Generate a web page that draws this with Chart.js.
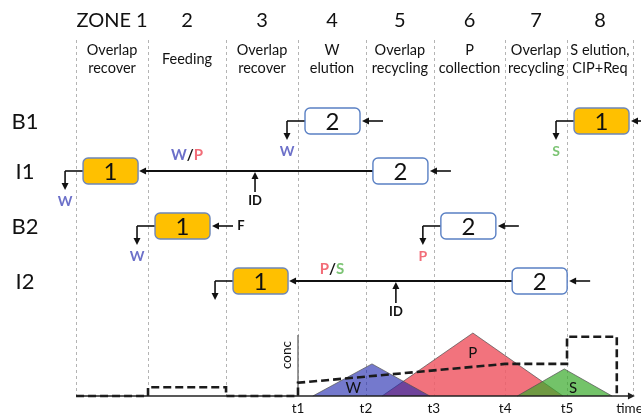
<!DOCTYPE html>
<html>
<head>
<meta charset="utf-8">
<script src="https://cdn.jsdelivr.net/npm/chart.js@4.4.1/dist/chart.umd.min.js"></script>
<style>
  html, body { margin: 0; padding: 0; background: #fff; }
  canvas { display: block; }
</style>
</head>
<body>
<canvas id="chart" width="641" height="416"></canvas>
<script>
// zones of one switching cycle
var zoneNums = ["ZONE 1", "2", "3", "4", "5", "6", "7", "8"];
var zoneNames = [["Overlap", "recover"], ["Feeding"], ["Overlap", "recover"], ["W", "elution"],
  ["Overlap", "recycling"], ["P", "collection"], ["Overlap", "recycling"], ["S elution,", "CIP+Req"]];
// zone borders on the time axis (borders 4..8 are t1..t5)
var zoneEdges = [-2.30, -1.23, -0.07, 1.00, 2.01, 3.02, 4.08, 5.00, 5.98];
var timeTicks = ["t1", "t2", "t3", "t4", "t5"];

// columns placed in each row / zone
var rowNames = ["B1", "I1", "B2", "I2"];
var boxRow = ["B1", "I1", "I1", "B2", "B2", "I2", "I2", "B1"];
var boxZone = [4, 1, 5, 2, 6, 3, 7, 8];
var boxNum = ["2", "1", "2", "1", "2", "1", "2", "1"];
var boxOut = ["W", "W", null, "W", "P", "", null, "S"];

// elution peaks (triangles)
var peakNames = ["W", "P", "S"];
var peakStart = [1.22, 2.25, 4.26];
var peakTop = [2.10, 3.60, 4.96];
var peakEnd = [2.96, 4.94, 5.67];
var peakConc = [0.51, 1.00, 0.43];

// dashed modifier profile
var gradT = [-2.30, -1.23, -1.23, -0.07, -0.07, 1.00, 1.00, 4.08, 5.00, 5.00, 5.74, 5.74];
var gradC = [0, 0, 0.14, 0.14, 0, 0, 0.21, 0.51, 0.51, 0.94, 0.94, 0];

var rowY = { B1: 121, I1: 171, B2: 226, I2: 281 };
var peakFill = ["rgba(30,38,175,0.62)", "rgba(240,91,102,0.85)", "rgba(55,169,41,0.7)"];
var peakOrder = [2, 3, 2];
var peakLabelY = [0.13, 0.68, 0.12];
var peakLabelDx = [-0.28, 0, 0.13];
var colW = "#6c70c9", colP = "#f26d78", colS = "#7cc474";
var font = "Lato, 'Liberation Sans', sans-serif";

var datasets = [{
  label: "profile",
  data: gradT.map(function (t, i) { return { x: t, y: gradC[i] }; }),
  borderColor: "#1b1b1b",
  borderWidth: 2.6,
  borderDash: [8, 4],
  fill: false,
  pointRadius: 0,
  order: 0
}];
for (var i = 0; i < peakNames.length; i++) {
  datasets.push({
    label: peakNames[i],
    data: [{ x: peakStart[i], y: 0 }, { x: peakTop[i], y: peakConc[i] }, { x: peakEnd[i], y: 0 }],
    borderColor: "rgba(80,80,80,0.7)",
    borderWidth: 1,
    backgroundColor: peakFill[i],
    fill: "origin",
    pointRadius: 0,
    order: peakOrder[i]
  });
}

function arrow(ctx, x1, y1, x2, y2) {
  var a = Math.atan2(y2 - y1, x2 - x1);
  ctx.beginPath();
  ctx.moveTo(x1, y1);
  ctx.lineTo(x2 - 4 * Math.cos(a), y2 - 4 * Math.sin(a));
  ctx.stroke();
  ctx.beginPath();
  ctx.moveTo(x2, y2);
  ctx.lineTo(x2 - 7 * Math.cos(a) + 3.5 * Math.sin(a), y2 - 7 * Math.sin(a) - 3.5 * Math.cos(a));
  ctx.lineTo(x2 - 7 * Math.cos(a) - 3.5 * Math.sin(a), y2 - 7 * Math.sin(a) + 3.5 * Math.cos(a));
  ctx.closePath();
  ctx.fill();
}

function roundBox(ctx, x, y, w, h, r) {
  ctx.beginPath();
  ctx.moveTo(x + r, y);
  ctx.arcTo(x + w, y, x + w, y + h, r);
  ctx.arcTo(x + w, y + h, x, y + h, r);
  ctx.arcTo(x, y + h, x, y, r);
  ctx.arcTo(x, y, x + w, y, r);
  ctx.closePath();
}

function slashLabel(ctx, cx, y, a, ca, b, cb) {
  ctx.font = "bold 15px " + font;
  var wa = ctx.measureText(a).width, ws = ctx.measureText("/").width, wb = ctx.measureText(b).width;
  var x = cx - (wa + ws + wb) / 2;
  ctx.textAlign = "left";
  ctx.fillStyle = ca; ctx.fillText(a, x, y);
  ctx.fillStyle = "#111"; ctx.fillText("/", x + wa, y);
  ctx.fillStyle = cb; ctx.fillText(b, x + wa + ws, y);
  ctx.textAlign = "center";
}

var diagram = {
  id: "diagram",
  beforeDatasetsDraw: function (chart) {
    var ctx = chart.ctx, xs = chart.scales.x, ys = chart.scales.y;
    ctx.save();
    ctx.strokeStyle = "#b4b4b4";
    ctx.lineWidth = 1;
    ctx.setLineDash([3, 3]);
    zoneEdges.forEach(function (e) {
      var x = Math.round(xs.getPixelForValue(e)) + 0.5;
      ctx.beginPath(); ctx.moveTo(x, 40); ctx.lineTo(x, ys.getPixelForValue(0)); ctx.stroke();
    });
    ctx.setLineDash([]);
    // conc axis at t1
    var x1 = xs.getPixelForValue(zoneEdges[3]);
    ctx.strokeStyle = "#777";
    ctx.lineWidth = 1.5;
    ctx.beginPath(); ctx.moveTo(x1, ys.getPixelForValue(0)); ctx.lineTo(x1, ys.getPixelForValue(0.97)); ctx.stroke();
    ctx.restore();
  },
  afterDatasetsDraw: function (chart) {
    var ctx = chart.ctx, xs = chart.scales.x, ys = chart.scales.y;
    var X = function (v) { return xs.getPixelForValue(v); };
    var y0 = ys.getPixelForValue(0);
    ctx.save();
    ctx.textAlign = "center";
    ctx.textBaseline = "middle";

    // time axis
    ctx.strokeStyle = "#222"; ctx.fillStyle = "#222"; ctx.lineWidth = 1.6;
    arrow(ctx, X(zoneEdges[0]), y0, X(6.01), y0);

    // headers
    for (var z = 0; z < zoneNums.length; z++) {
      var cx = (X(zoneEdges[z]) + X(zoneEdges[z + 1])) / 2;
      ctx.fillStyle = "#111";
      ctx.font = "20px " + font;
      ctx.fillText(zoneNums[z], cx, 21);
      ctx.font = "14.5px " + font;
      var lines = zoneNames[z];
      if (lines.length === 1) ctx.fillText(lines[0], cx, 59);
      else { ctx.fillText(lines[0], cx, 50); ctx.fillText(lines[1], cx, 68); }
    }

    // row names
    ctx.font = "22px " + font;
    ctx.fillStyle = "#111";
    rowNames.forEach(function (r) { ctx.fillText(r, 25, rowY[r] + 1); });

    // connections between the two columns of I1 / I2
    var bw = 55, bh = 26;
    var bx = boxZone.map(function (z) { return X(zoneEdges[z - 1]) + 7; });
    ctx.strokeStyle = "#111"; ctx.fillStyle = "#111"; ctx.lineWidth = 1.8;
    for (var k = 0; k < boxRow.length; k++) {
      var r = boxRow[k], y = rowY[r];
      if (boxOut[k] === null) {
        // column 2 of an I row feeds column 1 of the same row
        var j = boxRow.indexOf(r);
        arrow(ctx, bx[k], y, bx[j] + bw + 1, y);
      }
    }

    for (k = 0; k < boxRow.length; k++) {
      r = boxRow[k]; y = rowY[r];
      var isLineFed = (r === "I1" || r === "I2") && boxNum[k] === "1";
      ctx.strokeStyle = "#111"; ctx.fillStyle = "#111"; ctx.lineWidth = 1.6;
      if (!isLineFed) arrow(ctx, bx[k] + bw + 23, y, bx[k] + bw + 2, y);
      if (boxOut[k] !== null) {
        ctx.beginPath(); ctx.moveTo(bx[k], y); ctx.lineTo(bx[k] - 18, y); ctx.stroke();
        arrow(ctx, bx[k] - 18, y, bx[k] - 18, y + 19);
        var c = boxOut[k] === "W" ? colW : boxOut[k] === "P" ? colP : colS;
        ctx.fillStyle = c;
        ctx.font = "bold 14px " + font;
        ctx.fillText(boxOut[k], bx[k] - 18, y + 30);
      }
      roundBox(ctx, bx[k], y - bh / 2, bw, bh, 5);
      ctx.fillStyle = boxNum[k] === "1" ? "#ffc000" : "#fff";
      ctx.fill();
      ctx.strokeStyle = boxNum[k] === "1" ? "#6d86b8" : "#5a80c4";
      ctx.lineWidth = 1.4;
      ctx.stroke();
      ctx.fillStyle = "#111";
      ctx.font = "24px " + font;
      ctx.fillText(boxNum[k], bx[k] + bw / 2, y + 1);
    }

    // feed
    ctx.fillStyle = "#111";
    ctx.font = "bold 13px " + font;
    var fb = boxRow.indexOf("B2");
    ctx.fillText("F", bx[fb] + bw + 31, rowY.B2);

    // mixed fractions and internal desorbent
    slashLabel(ctx, (X(zoneEdges[1]) + X(zoneEdges[2])) / 2, rowY.I1 - 16, "W", colW, "P", colP);
    slashLabel(ctx, (X(zoneEdges[3]) + X(zoneEdges[4])) / 2, rowY.I2 - 12, "P", colP, "S", colS);
    ctx.strokeStyle = "#111"; ctx.fillStyle = "#111"; ctx.lineWidth = 1.6;
    var id1 = (X(zoneEdges[2]) + X(zoneEdges[3])) / 2 - 7;
    var id2 = (X(zoneEdges[4]) + X(zoneEdges[5])) / 2 - 4;
    arrow(ctx, id1, rowY.I1 + 21, id1, rowY.I1 + 1);
    arrow(ctx, id2, rowY.I2 + 22, id2, rowY.I2 + 1);
    ctx.font = "bold 13px " + font;
    ctx.fillText("ID", id1, rowY.I1 + 30);
    ctx.fillText("ID", id2, rowY.I2 + 31);

    // peak names
    ctx.font = "15px " + font;
    ctx.fillStyle = "#111";
    for (var p = 0; p < peakNames.length; p++) {
      ctx.fillText(peakNames[p], X(peakTop[p] + peakLabelDx[p]), ys.getPixelForValue(peakLabelY[p]));
    }

    // time ticks
    ctx.font = "13.5px " + font;
    for (var t = 0; t < timeTicks.length; t++) {
      ctx.fillText(timeTicks[t], X(zoneEdges[3 + t]), 409);
    }
    ctx.fillText("time", X(5.93), 409);

    // conc label
    ctx.translate(X(zoneEdges[3]) - 11, ys.getPixelForValue(0.65));
    ctx.rotate(-Math.PI / 2);
    ctx.fillText("conc", 0, 0);
    ctx.restore();
  }
};

new Chart(document.getElementById("chart"), {
  type: "line",
  data: { datasets: datasets },
  options: {
    responsive: false,
    animation: false,
    layout: { padding: 0 },
    plugins: { legend: { display: false }, tooltip: { enabled: false } },
    elements: { line: { tension: 0 } },
    scales: {
      x: { type: "linear", min: -3.431, max: 6.100, display: false },
      y: { type: "linear", min: -0.317, max: 6.286, display: false }
    }
  },
  plugins: [diagram]
});
</script>
</body>
</html>
